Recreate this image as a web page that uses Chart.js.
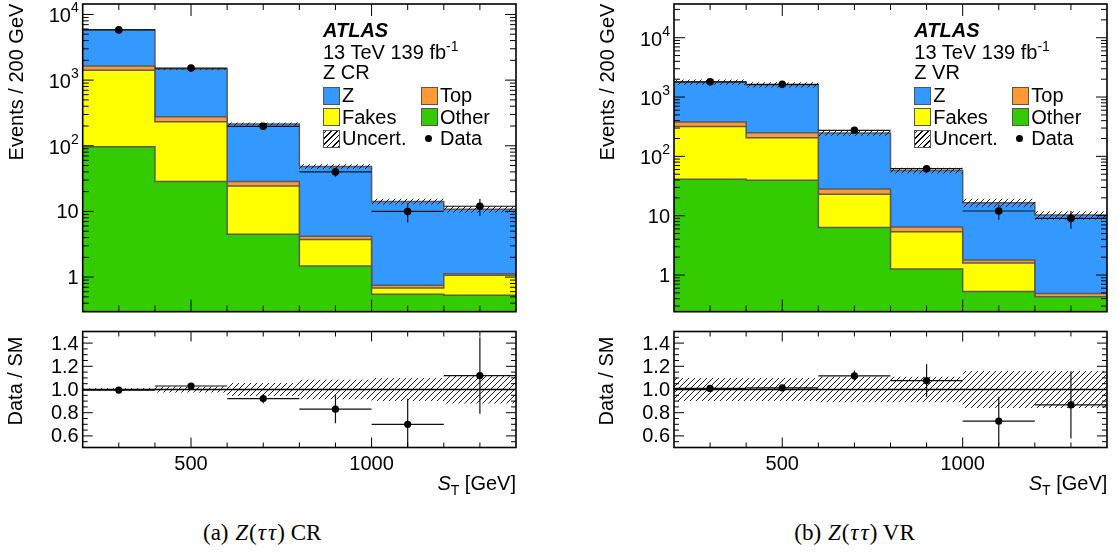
<!DOCTYPE html>
<html>
<head>
<meta charset="utf-8">
<title>Z(tautau) CR and VR</title>
<script src="https://cdn.jsdelivr.net/npm/chart.js@4.4.1/dist/chart.umd.min.js"></script>
<style>
  html, body { margin: 0; padding: 0; background: #fff; }
  #fig { position: relative; width: 1118px; height: 552px; overflow: hidden;
         font-family: "Liberation Sans", Arial, Helvetica, sans-serif; color: #000; }
  #fig canvas { position: absolute; }
  .lbl { position: absolute; font-size: 20px; line-height: 20px; white-space: nowrap; }
  .rot { position: absolute; font-size: 20px; line-height: 20px; white-space: nowrap;
         transform: translate(-50%, -50%) rotate(-90deg); }
  .box { position: absolute; width: 15px; height: 16px; border: 1px solid #555; }
  .hatch { background: repeating-linear-gradient(-45deg, #000 0 1px, #fff 1px 4px); }
  .dot { position: absolute; width: 7px; height: 7px; border-radius: 50%; background: #000; }
  .cap { position: absolute; font-family: "Liberation Serif", "Times New Roman", serif;
         font-size: 23px; line-height: 23px; white-space: nowrap; }
  .cap i { padding: 0 1px; }
  .sup { font-size: 14px; position: relative; top: -8px; }
  .sub { font-size: 14px; position: relative; top: 5px; }
</style>
</head>
<body>
<div id="fig">
  <canvas id="crMain" width="559" height="322" style="left:0;top:0"></canvas>
  <canvas id="vrMain" width="559" height="322" style="left:559px;top:0"></canvas>
  <canvas id="crRatio" width="559" height="178" style="left:0;top:322px"></canvas>
  <canvas id="vrRatio" width="559" height="178" style="left:559px;top:322px"></canvas>
</div>
<script>
// === DATA ===
const binEdges   = [200, 400, 600, 800, 1000, 1200, 1400];
const binCentres = [300, 500, 700, 900, 1100, 1300];
const xTickLabels     = [500, 1000];
const logTickLabels   = [1, 10, 100, 1000, 10000];
const ratioTickLabels = [0.6, 0.8, 1.0, 1.2, 1.4];

// Z(tautau) CR - events per bin, per background
const crOther = [97, 28.6, 4.5, 1.47, 0.55, 0.53];
const crFakes = [1318, 204, 19.8, 2.26, 0.13, 0.54];
const crTop   = [230, 44, 4.3, 0.46, 0.07, 0.05];
const crZ     = [4205, 1203, 186, 44.1, 13.45, 9.7];
const crData  = [5820, 1525, 198, 40, 10, 12];
const crUnc   = [0.01, 0.025, 0.055, 0.085, 0.10, 0.12];   // relative
const crRatio    = [0.995, 1.03, 0.922, 0.83, 0.70, 1.12];
const crRatioErr = [0.013, 0.026, 0.04, 0.12, 0.22, 0.33];

// Z(tautau) VR
const vrOther = [41, 39.4, 6.3, 1.26, 0.53, 0.43];
const vrFakes = [279, 166.6, 16.6, 4.11, 1.06, 0];
const vrTop   = [59, 44, 5.2, 1.07, 0.20, 0.06];
const vrZ     = [1411, 1365, 218.9, 51.6, 14.8, 9.8];
const vrData  = [1805, 1635, 275, 62, 12, 9];
const vrUnc   = [0.10, 0.10, 0.11, 0.11, 0.16, 0.16];
const vrRatio    = [1.009, 1.014, 1.118, 1.077, 0.727, 0.868];
const vrRatioErr = [0.025, 0.025, 0.045, 0.14, 0.21, 0.29];

// === STYLE ===
const COL_Z = '#3399ff', COL_TOP = '#ff9933', COL_FAKES = '#ffff00', COL_OTHER = '#33cc00';
const EDGE = '#5a5a5a';
const FONT = '20px "Liberation Sans", Arial, sans-serif';

function makeHatch() {
  const c = document.createElement('canvas');
  c.width = 6; c.height = 6;
  const g = c.getContext('2d');
  g.strokeStyle = '#000'; g.lineWidth = 0.9;
  g.beginPath();
  g.moveTo(0, 6); g.lineTo(6, 0);
  g.moveTo(-1, 1); g.lineTo(1, -1);
  g.moveTo(5, 7); g.lineTo(7, 5);
  g.stroke();
  return g.createPattern(c, 'repeat');
}
const HATCH = makeHatch();

// histogram as stepped line: one point per left edge + closing point
function stepPoints(vals) {
  return binEdges.map((e, i) => ({ x: e, y: vals[Math.min(i, vals.length - 1)] }));
}
function cumulate(...parts) {
  return parts[0].map((_, i) => parts.reduce((s, p) => s + p[i], 0));
}

// === PLUGINS ===
// data points: horizontal bin-width bar + vertical error bar
const errorBars = {
  id: 'errorBars',
  beforeDatasetDraw(chart, args) {
    const ds = chart.data.datasets[args.index];
    if (!ds.errors) return;
    const { ctx, chartArea: a, scales: { x, y } } = chart;
    ctx.save();
    ctx.beginPath(); ctx.rect(a.left, a.top, a.width, a.height); ctx.clip();
    ctx.strokeStyle = '#111'; ctx.lineWidth = 1.2;
    ds.data.forEach((p, i) => {
      const py = y.getPixelForValue(p.y);
      const px = x.getPixelForValue(p.x);
      const lo = Math.max(p.y - ds.errors[i], y.min);
      ctx.beginPath();
      ctx.moveTo(x.getPixelForValue(binEdges[i]), py);
      ctx.lineTo(x.getPixelForValue(binEdges[i + 1]), py);
      ctx.moveTo(px, y.getPixelForValue(p.y + ds.errors[i]));
      ctx.lineTo(px, y.getPixelForValue(lo));
      ctx.stroke();
    });
    ctx.restore();
  }
};

// ROOT-like frame: inward ticks on all four sides, tick labels
const rootFrame = {
  id: 'rootFrame',
  afterDraw(chart, args, o) {
    const { ctx, chartArea: a, scales: { x, y } } = chart;
    ctx.save();
    ctx.strokeStyle = '#000';
    ctx.lineWidth = 1;
    ctx.beginPath();
    for (let v = 300; v < 1400; v += 100) {
      const px = x.getPixelForValue(v);
      const len = xTickLabels.includes(v) ? o.xMajor : o.xMinor;
      ctx.moveTo(px, a.bottom); ctx.lineTo(px, a.bottom - len);
      ctx.moveTo(px, a.top); ctx.lineTo(px, a.top + len);
    }
    const yt = [];
    if (o.log) {
      for (let e = Math.floor(Math.log10(y.min)); e <= Math.ceil(Math.log10(y.max)); e++) {
        for (let m = 1; m < 10; m++) {
          const v = m * Math.pow(10, e);
          if (v > y.min && v < y.max) yt.push([v, m === 1]);
        }
      }
    } else {
      for (let k = 11; k < 30; k++) yt.push([k / 20, k % 4 === 0]);
    }
    yt.forEach(([v, major]) => {
      const py = y.getPixelForValue(v);
      const len = major ? o.yMajor : o.yMinor;
      ctx.moveTo(a.left, py); ctx.lineTo(a.left + len, py);
      ctx.moveTo(a.right, py); ctx.lineTo(a.right - len, py);
    });
    ctx.stroke();
    ctx.lineWidth = 1.6;
    ctx.strokeRect(a.left, a.top, a.width, a.height);

    ctx.fillStyle = '#000';
    ctx.font = FONT;
    if (o.log) {
      logTickLabels.forEach(v => {
        const py = y.getPixelForValue(v);
        ctx.textAlign = 'right';
        ctx.textBaseline = 'alphabetic';
        if (v < 100) {
          ctx.fillText(String(v), a.left - 4, py + 7);
        } else {
          const ex = String(Math.round(Math.log10(v)));
          ctx.font = '14px "Liberation Sans", Arial, sans-serif';
          const w = ctx.measureText(ex).width;
          ctx.fillText(ex, a.left - 4, py - 2);
          ctx.font = FONT;
          ctx.fillText('10', a.left - 4 - w, py + 8);
        }
      });
    } else {
      ctx.textAlign = 'right';
      ctx.textBaseline = 'middle';
      ratioTickLabels.forEach(v => ctx.fillText(v.toFixed(1), a.left - 4, y.getPixelForValue(v) + 1));
      ctx.textAlign = 'center';
      xTickLabels.forEach(v => ctx.fillText(String(v), x.getPixelForValue(v), a.bottom + 17));
    }
    ctx.restore();
  }
};

function baseOptions(padding, yScale, frame) {
  return {
    responsive: false, animation: false, devicePixelRatio: 1,
    layout: { padding },
    plugins: { legend: { display: false }, tooltip: { enabled: false }, rootFrame: frame },
    elements: {
      point: { radius: 0 },
      line: { stepped: true, tension: 0, borderColor: EDGE, borderWidth: 1.5 }
    },
    scales: {
      x: { type: 'linear', min: 200, max: 1400, display: false },
      y: yScale
    }
  };
}

function mainChart(id, other, fakes, top, z, data, unc, yMin, yMax, padding) {
  const c1 = other;
  const c2 = cumulate(other, fakes);
  const c3 = cumulate(other, fakes, top);
  const total = cumulate(other, fakes, top, z);
  return new Chart(document.getElementById(id), {
    type: 'line',
    data: {
      datasets: [
        { label: 'Z', data: stepPoints(total), fill: 'start', backgroundColor: COL_Z, order: 6 },
        { label: 'Top', data: stepPoints(c3), fill: 'start', backgroundColor: COL_TOP, order: 5 },
        { label: 'Fakes', data: stepPoints(c2), fill: 'start', backgroundColor: COL_FAKES, order: 4 },
        { label: 'Other', data: stepPoints(c1), fill: 'start', backgroundColor: COL_OTHER, order: 3 },
        { label: 'Uncert. up', data: stepPoints(total.map((t, i) => t * (1 + unc[i]))),
          fill: '+1', backgroundColor: HATCH, borderWidth: 0, order: 2 },
        { label: 'Uncert. down', data: stepPoints(total.map((t, i) => t * (1 - unc[i]))),
          fill: false, borderWidth: 0, order: 2 },
        { label: 'Data', data: binCentres.map((x, i) => ({ x, y: data[i] })),
          showLine: false, pointRadius: 3.8, pointBackgroundColor: '#000', pointBorderWidth: 0,
          errors: data.map(Math.sqrt), order: 0 }
      ]
    },
    options: baseOptions(padding,
      { type: 'logarithmic', min: yMin, max: yMax, display: false },
      { log: true, xMajor: 12, xMinor: 6, yMajor: 11, yMinor: 6 }),
    plugins: [errorBars, rootFrame]
  });
}

function ratioChart(id, ratio, ratioErr, unc, padding) {
  return new Chart(document.getElementById(id), {
    type: 'line',
    data: {
      datasets: [
        { label: 'Uncert. up', data: stepPoints(unc.map(u => 1 + u)),
          fill: '+1', backgroundColor: HATCH, borderWidth: 0, order: 3 },
        { label: 'Uncert. down', data: stepPoints(unc.map(u => 1 - u)),
          fill: false, borderWidth: 0, order: 3 },
        { label: 'Unity', data: [{ x: 200, y: 1 }, { x: 1400, y: 1 }],
          stepped: false, borderColor: '#000', borderWidth: 1.5, fill: false, order: 2 },
        { label: 'Data / SM', data: binCentres.map((x, i) => ({ x, y: ratio[i] })),
          showLine: false, pointRadius: 3.6, pointBackgroundColor: '#000', pointBorderWidth: 0,
          errors: ratioErr, order: 0 }
      ]
    },
    options: baseOptions(padding,
      { type: 'linear', min: 0.5, max: 1.5, display: false },
      { log: false, xMajor: 10, xMinor: 5, yMajor: 10, yMinor: 5 }),
    plugins: [errorBars, rootFrame]
  });
}

// === CHARTS ===
const padL = { left: 82.7, top: 3.5, right: 43, bottom: 10.3 };
const padR = { left: 115, top: 3.5, right: 11, bottom: 10.3 };
mainChart('crMain', crOther, crFakes, crTop, crZ, crData, crUnc, 0.297, 14430, padL);
mainChart('vrMain', vrOther, vrFakes, vrTop, vrZ, vrData, vrUnc, 0.241, 37000, padR);
ratioChart('crRatio', crRatio, crRatioErr, crUnc, { left: 82.7, top: 9.5, right: 43, bottom: 52.5 });
ratioChart('vrRatio', vrRatio, vrRatioErr, vrUnc, { left: 115, top: 9.5, right: 11, bottom: 52.5 });

// === TEXT ===
const fig = document.getElementById('fig');
function addText(html, cls, style) {
  const d = document.createElement('div');
  d.className = cls;
  d.innerHTML = html;
  Object.assign(d.style, style);
  fig.appendChild(d);
}
function px(v) { return v + 'px'; }

function panelText(dx, region, tag) {
  addText('Events / 200 GeV', 'rot', { left: px(16 + dx), top: px(82) });
  addText('Data / SM', 'rot', { left: px(15 + dx), top: px(381) });
  addText('<b><i>ATLAS</i></b>', 'lbl', { left: px(323 + dx), top: px(30 - 10) });
  addText('13 TeV 139 fb<span class="sup">-1</span>', 'lbl', { left: px(323 + dx), top: px(52 - 10) });
  addText(region, 'lbl', { left: px(323 + dx), top: px(72 - 10) });
  // legend
  [['Z', COL_Z, 'Top', COL_TOP, 95], ['Fakes', COL_FAKES, 'Other', COL_OTHER, 116.5]].forEach(r => {
    addText('', 'box', { left: px(323 + dx), top: px(r[4] - 8.5), background: r[1] });
    addText(r[0], 'lbl', { left: px(342 + dx), top: px(r[4] - 10) });
    addText('', 'box', { left: px(420.5 + dx), top: px(r[4] - 8.5), background: r[3] });
    addText(r[2], 'lbl', { left: px(440 + dx), top: px(r[4] - 10) });
  });
  addText('', 'box hatch', { left: px(323 + dx), top: px(138 - 8.5) });
  addText('Uncert.', 'lbl', { left: px(342 + dx), top: px(138 - 10) });
  addText('', 'dot', { left: px(424.5 + dx), top: px(138 - 3.5) });
  addText('Data', 'lbl', { left: px(440 + dx), top: px(138 - 10) });
  // x title
  addText('<i>S</i><span class="sub">T</span> [GeV]', 'lbl', { right: px(1118 - 516 - dx), top: px(483 - 10) });
  // caption
  addText('(' + tag + ') <i>Z</i>(<i>τ</i><i>τ</i>) ' + region.slice(2), 'cap', { left: px(203 + dx), top: px(533 - 12) });
}
panelText(0, 'Z CR', 'a');
panelText(591.3, 'Z VR', 'b');
</script>
</body>
</html>
